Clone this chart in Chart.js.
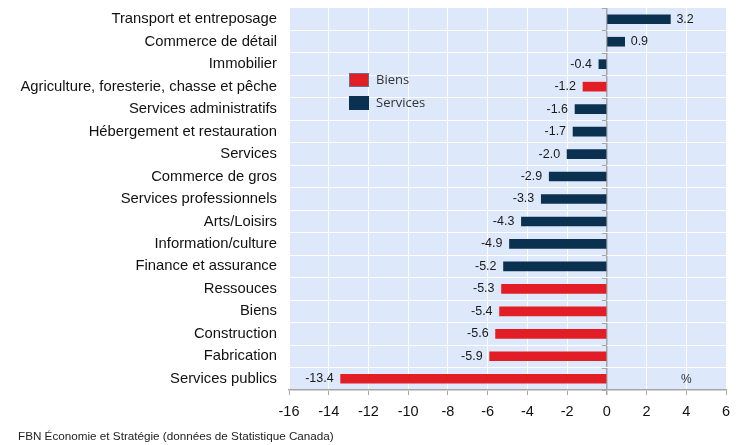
<!DOCTYPE html>
<html>
<head>
<meta charset="utf-8">
<script src="https://cdn.jsdelivr.net/npm/chart.js@4.4.1/dist/chart.umd.min.js"></script>
<style>
  html, body { margin: 0; padding: 0; background: #fff; }
  #wrap { width: 745px; height: 445px; }
</style>
</head>
<body>
<div id="wrap"><canvas id="chart" width="745" height="445"></canvas></div>
<script>
  const categories = [
    'Transport et entreposage', 'Commerce de détail', 'Immobilier',
    'Agriculture, foresterie, chasse et pêche', 'Services administratifs',
    'Hébergement et restauration', 'Services', 'Commerce de gros',
    'Services professionnels', 'Arts/Loisirs', 'Information/culture',
    'Finance et assurance', 'Ressouces', 'Biens', 'Construction',
    'Fabrication', 'Services publics'
  ];
  const values = [3.2, 0.9, -0.4, -1.2, -1.6, -1.7, -2.0, -2.9, -3.3, -4.3, -4.9, -5.2, -5.3, -5.4, -5.6, -5.9, -13.4];
  // B = Biens, S = Services
  const groups = ['S', 'S', 'S', 'B', 'S', 'S', 'S', 'S', 'S', 'S', 'S', 'S', 'B', 'B', 'B', 'B', 'B'];
  const legendLabels = ['Biens', 'Services'];
  const source = 'FBN Économie et Stratégie (données de Statistique Canada)';

  const RED = '#e31d25';
  const NAVY = '#0a3150';
  const colorFor = (g) => (g === 'B' ? RED : NAVY);

  // Light blue plot background.
  const backgroundPlugin = {
    id: 'plotBg',
    beforeDraw(chart) {
      const { ctx, chartArea: a } = chart;
      ctx.save();
      ctx.fillStyle = '#dde9fb';
      ctx.fillRect(a.left, a.top, a.right - a.left, a.bottom - a.top);
      ctx.restore();
    },
  };

  // Zero line ticks, value labels, legend, unit and source note.
  const decorPlugin = {
    id: 'decor',
    afterDatasetsDraw(chart) {
      const { ctx, chartArea: a, scales } = chart;
      const x0 = scales.x.getPixelForValue(0);
      ctx.save();

      // small ticks on the zero axis at category boundaries
      ctx.strokeStyle = '#a6a6a6';
      ctx.lineWidth = 1;
      const step = (a.bottom - a.top) / categories.length;
      for (let i = 0; i <= categories.length; i++) {
        const py = Math.round(a.top + i * step) + 0.5;
        ctx.beginPath();
        ctx.moveTo(x0 - 5, py);
        ctx.lineTo(x0, py);
        ctx.stroke();
      }

      // value labels
      ctx.font = '12.5px "Liberation Sans", Arial, sans-serif';
      ctx.fillStyle = '#1a1a1a';
      ctx.textBaseline = 'middle';
      chart.getDatasetMeta(0).data.forEach((bar, i) => {
        const v = values[i];
        const txt = v.toFixed(1);
        if (v >= 0) {
          ctx.textAlign = 'left';
          ctx.fillText(txt, bar.x + 6, bar.y);
        } else {
          ctx.textAlign = 'right';
          ctx.fillText(txt, bar.x - 7, bar.y);
        }
      });

      // legend
      ctx.font = '13px "Open Sans", sans-serif';
      ctx.textAlign = 'left';
      legendLabels.forEach((lab, i) => {
        const by = 73 + i * 23;
        ctx.fillStyle = i === 0 ? RED : NAVY;
        ctx.fillRect(349, by, 20, 14);
        if (i === 0) {
          ctx.strokeStyle = '#6a6f90';
          ctx.strokeRect(349.5, by + 0.5, 19, 13);
        }
        ctx.fillStyle = '#333';
        ctx.fillText(lab, 376, by + 7);
      });

      // unit
      ctx.font = '12px "Liberation Sans", Arial, sans-serif';
      ctx.fillStyle = '#333';
      ctx.textAlign = 'center';
      ctx.fillText('%', scales.x.getPixelForValue(4), 380);

      // source note
      ctx.font = '11.7px "Liberation Sans", Arial, sans-serif';
      ctx.fillStyle = '#222';
      ctx.textAlign = 'left';
      ctx.fillText(source, 18, 437);
      ctx.restore();
    },
  };

  new Chart(document.getElementById('chart'), {
    type: 'bar',
    data: {
      labels: categories,
      datasets: [{
        data: values,
        backgroundColor: groups.map(colorFor),
        borderWidth: 0,
        barThickness: 9,
      }],
    },
    options: {
      indexAxis: 'y',
      responsive: false,
      animation: false,
      layout: { padding: { top: 8, right: 19, bottom: 25, left: 0 } },
      plugins: {
        legend: { display: false },
        tooltip: { enabled: false },
      },
      scales: {
        x: {
          min: -16,
          max: 6,
          ticks: {
            stepSize: 2,
            color: '#111',
            padding: 8,
            font: { family: '"Liberation Sans", Arial, sans-serif', size: 14.5 },
          },
          grid: {
            color: (c) => (c.tick && c.tick.value === 0 ? '#a6a6a6' : '#ffffff'),
            lineWidth: (c) => (c.tick && c.tick.value === 0 ? 1.5 : 1),
            drawTicks: true,
            tickLength: 5,
            tickColor: '#a6a6a6',
          },
          border: { display: true, color: '#a6a6a6', width: 1.5 },
          afterFit(scale) { scale.height = 30; },
        },
        y: {
          ticks: {
            color: '#111',
            padding: 12,
            font: { family: '"Liberation Sans", Arial, sans-serif', size: 14.8 },
          },
          grid: { color: '#ffffff', drawTicks: false },
          border: { display: false },
          afterFit(scale) {
            scale.width = 289;
            scale.paddingTop = 0;
            scale.paddingBottom = 0;
          },
        },
      },
    },
    plugins: [backgroundPlugin, decorPlugin],
  });
</script>
</body>
</html>
